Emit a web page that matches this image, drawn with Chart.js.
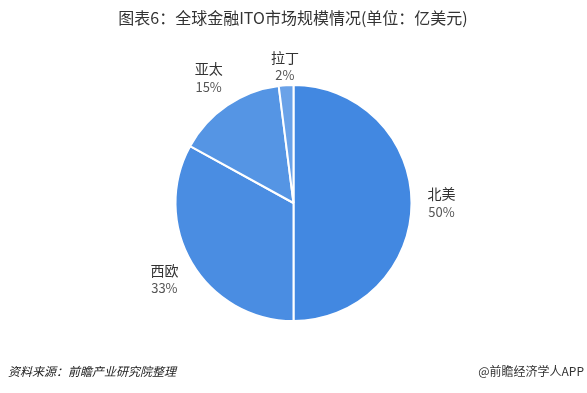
<!DOCTYPE html>
<html>
<head>
<meta charset="utf-8">
<script src="https://cdn.jsdelivr.net/npm/chart.js@4/dist/chart.umd.min.js"></script>
<style>
  html, body { margin:0; padding:0; background:#fff; }
  #wrap { width:587px; height:393px; position:relative; }
</style>
</head>
<body>
<div id="wrap"><canvas id="myChart"></canvas></div>
<script>
// data
const regions = ['北美', '西欧', '亚太', '拉丁'];
const shares = [50, 33, 15, 2];
const sliceColors = ['#4288E1', '#4A8DE2', '#5595E4', '#6AA2E8'];

const titleText = '图表6：全球金融ITO市场规模情况(单位：亿美元)';
const sourceText = '资料来源：前瞻产业研究院整理';
const brandText = '@前瞻经济学人APP';

const cjk = '"Noto Sans CJK SC", "Noto Sans", sans-serif';

// labels outside each slice + title/footer
const textPlugin = {
  id: 'textPlugin',
  afterDraw(chart) {
    const ctx = chart.ctx;
    ctx.save();
    ctx.fillStyle = '#333';
    ctx.font = '16px ' + cjk;
    ctx.textAlign = 'center';
    ctx.textBaseline = 'middle';
    ctx.fillText(titleText, 293, 18);

    ctx.font = 'italic 12px ' + cjk;
    ctx.textAlign = 'left';
    ctx.fillStyle = '#222';
    ctx.fillText(sourceText, 8, 371);
    ctx.font = '12px ' + cjk;
    ctx.textAlign = 'right';
    ctx.fillStyle = '#333';
    ctx.fillText(brandText, 584, 371);

    const meta = chart.getDatasetMeta(0);
    const offs = [30, 32, 33, 19];
    meta.data.forEach((arc, i) => {
      const p = arc.getProps(['x', 'y', 'startAngle', 'endAngle', 'outerRadius'], true);
      const mid = (p.startAngle + p.endAngle) / 2;
      const d = p.outerRadius + offs[i];
      const lx = p.x + Math.cos(mid) * d;
      const ly = p.y + Math.sin(mid) * d;
      ctx.textAlign = 'center';
      ctx.fillStyle = '#333';
      ctx.font = '14px ' + cjk;
      ctx.fillText(regions[i], lx, ly - 9);
      ctx.fillStyle = '#555';
      ctx.font = '13px ' + cjk;
      ctx.fillText(shares[i] + '%', lx, ly + 9);
    });
    ctx.restore();
  }
};

new Chart(document.getElementById('myChart'), {
  type: 'pie',
  data: {
    labels: regions,
    datasets: [{
      data: shares,
      backgroundColor: sliceColors,
      borderColor: '#fff',
      borderWidth: 2
    }]
  },
  options: {
    responsive: true,
    maintainAspectRatio: false,
    animation: false,
    layout: { padding: { top: 84, bottom: 71, left: 0, right: 0 } },
    plugins: {
      legend: { display: false },
      tooltip: { enabled: false }
    }
  },
  plugins: [textPlugin]
});
</script>
</body>
</html>
